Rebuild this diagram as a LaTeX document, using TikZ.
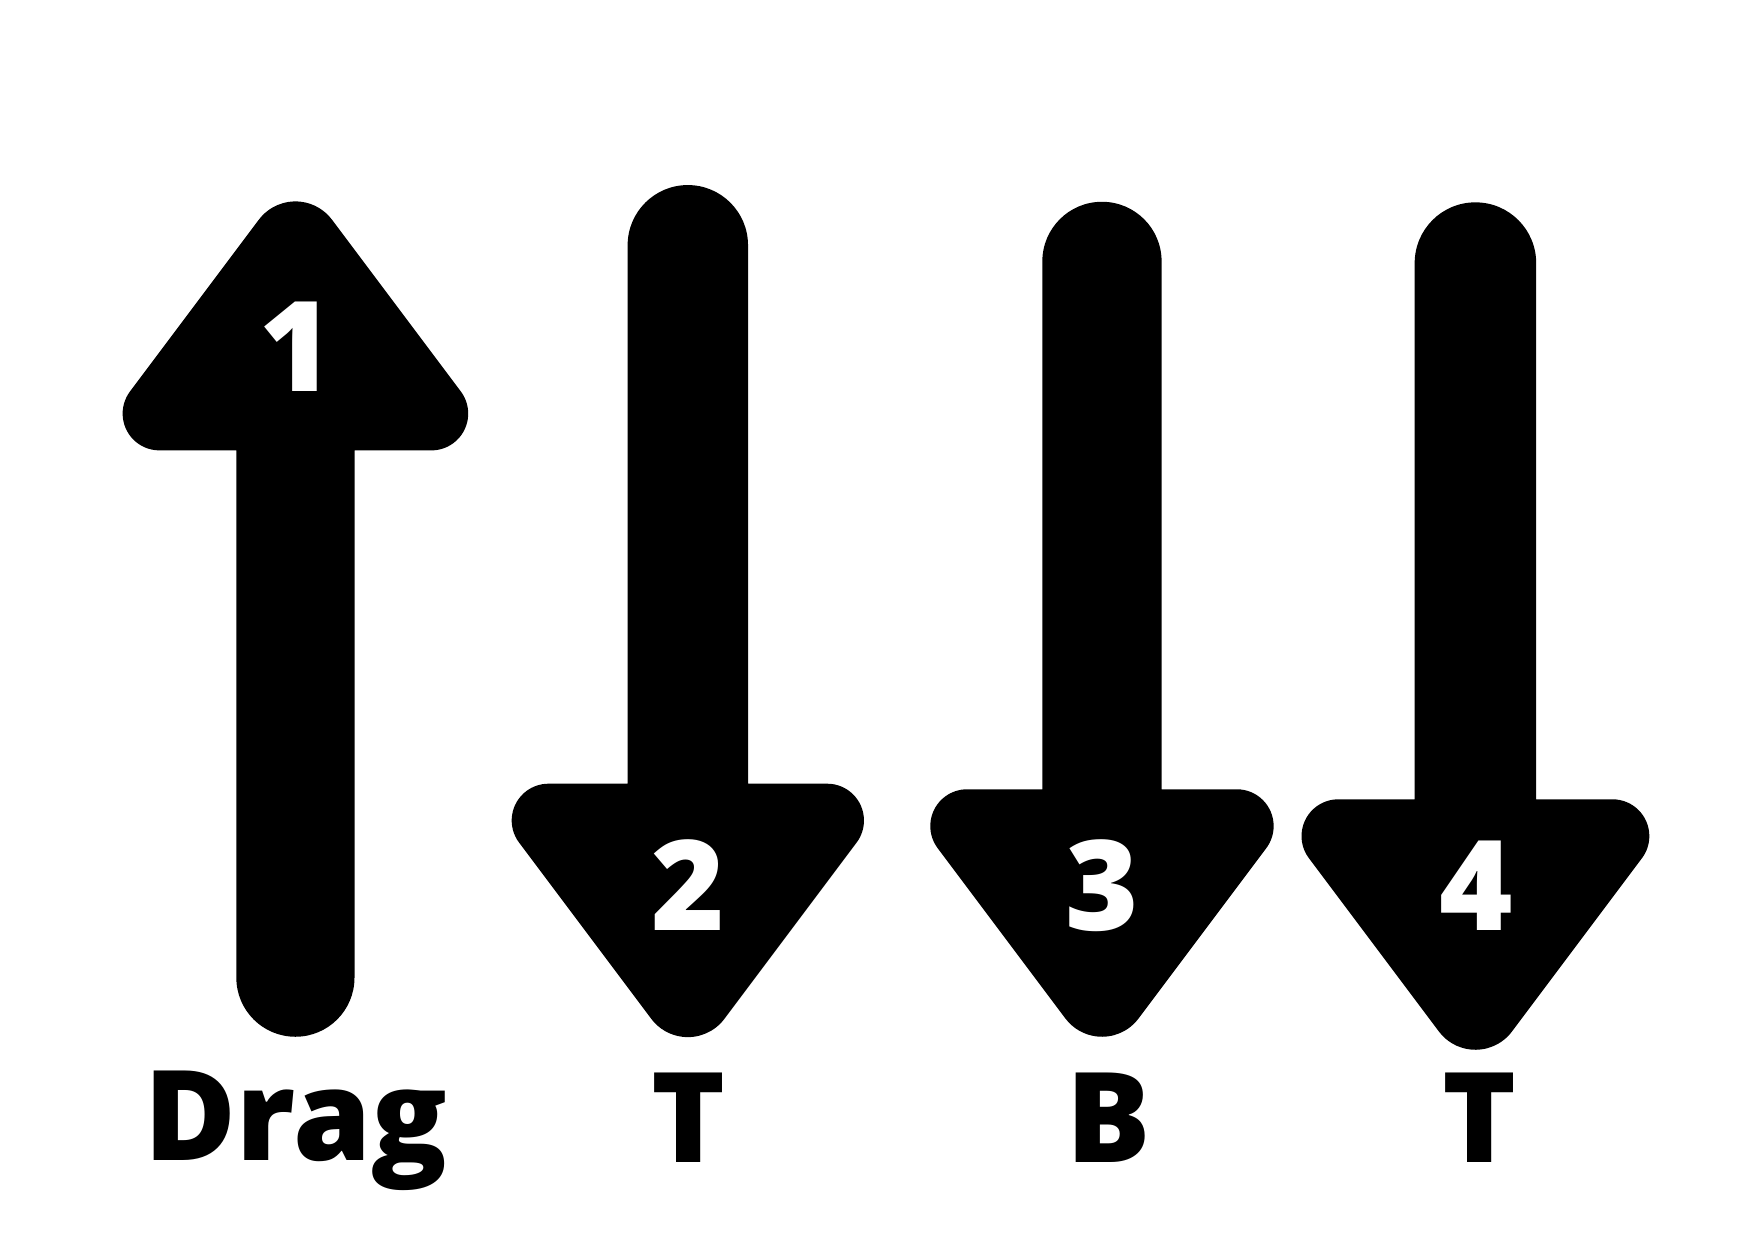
\documentclass[tikz,border=0pt]{standalone}
\usepackage{fontspec}
\IfFontExistsTF{Open Sans ExtraBold}{\newfontfamily\lblfont{Open Sans ExtraBold}}{%
 \IfFontExistsTF{Open Sans Extrabold}{\newfontfamily\lblfont{Open Sans Extrabold}}{%
  \IfFontExistsTF{OpenSans-ExtraBold}{\newfontfamily\lblfont{OpenSans-ExtraBold}}{%
   \newfontfamily\lblfont{Open Sans}[UprightFont=*-Bold,FakeBold=1.5]}}}
% down arrow: #1 cx, #2 shaft half width, #3 shaft top arc centre y, #4 head top y, #5 head half base, #6 corner radius, #7 tip radius
\newcommand\DownArr[7]{%
  \fill[arrowfill] ({#1-#2},#3) arc[start angle=180,end angle=360,radius=#2]
    -- ({#1+#2},#4) -- ({#1+#5-2*#6},#4)
    arc[start angle=270,end angle=396.87,radius=#6]
    -- ({#1+0.8*#7},{#4+4/3*#5-1.0667*#7})
    arc[start angle=36.87,end angle=143.13,radius=#7]
    -- ({#1-#5+1.2*#6},{#4+1.6*#6})
    arc[start angle=143.13,end angle=270,radius=#6]
    -- ({#1-#2},#4) -- cycle;}
% up arrow: #1 cx, #2 shaft half width, #3 shaft bottom arc centre y, #4 head base y, #5 head half base, #6 corner radius, #7 tip radius
\newcommand\UpArr[7]{%
  \fill[arrowfill] ({#1-#2},#3) -- ({#1-#2},#4) -- ({#1-#5+2*#6},#4)
    arc[start angle=90,end angle=216.87,radius=#6]
    -- ({#1-0.8*#7},{#4-4/3*#5+1.0667*#7})
    arc[start angle=216.87,end angle=323.13,radius=#7]
    -- ({#1+#5-1.2*#6},{#4-1.6*#6})
    arc[start angle=323.13,end angle=450,radius=#6]
    -- ({#1+#2},#4) -- ({#1+#2},#3)
    arc[start angle=0,end angle=180,radius=#2] -- cycle;}
\begin{document}
\begin{tikzpicture}[x=0.01cm,y=-0.01cm,
  arrowfill/.style={fill=black},
  num/.style={text=white,font=\lblfont\fontsize{32}{36}\selectfont,anchor=base,inner sep=0pt},
  lbl/.style={text=black,font=\lblfont\fontsize{32}{36}\selectfont,anchor=base,inner sep=0pt}]
\useasboundingbox (0,0) rectangle (1568,1112);
\fill[white] (0,0) rectangle (1568,1112);
% arrows
\UpArr{265}{53}{877}{404}{188}{33}{41}
\DownArr{617}{54}{220}{703}{191}{33}{41}
\DownArr{988.5}{53.5}{234.5}{708}{187}{33}{41}
\DownArr{1323.5}{54.5}{236}{717}{189}{33}{41}
% numbers
\node[num] (n1) at (265.5,351) {1};
\node[num] (n2) at (617,835) {2};
\node[num] (n3) at (988.5,835) {3};
\node[num] (n4) at (1324.5,835) {4};
% labels
\node[lbl] (l1) at (265.5,1041) {Drag};
\node[lbl] (l2) at (617.5,1043) {T};
\node[lbl] (l3) at (994.5,1043) {B};
\node[lbl] (l4) at (1327,1043) {T};
\end{tikzpicture}
\end{document}
